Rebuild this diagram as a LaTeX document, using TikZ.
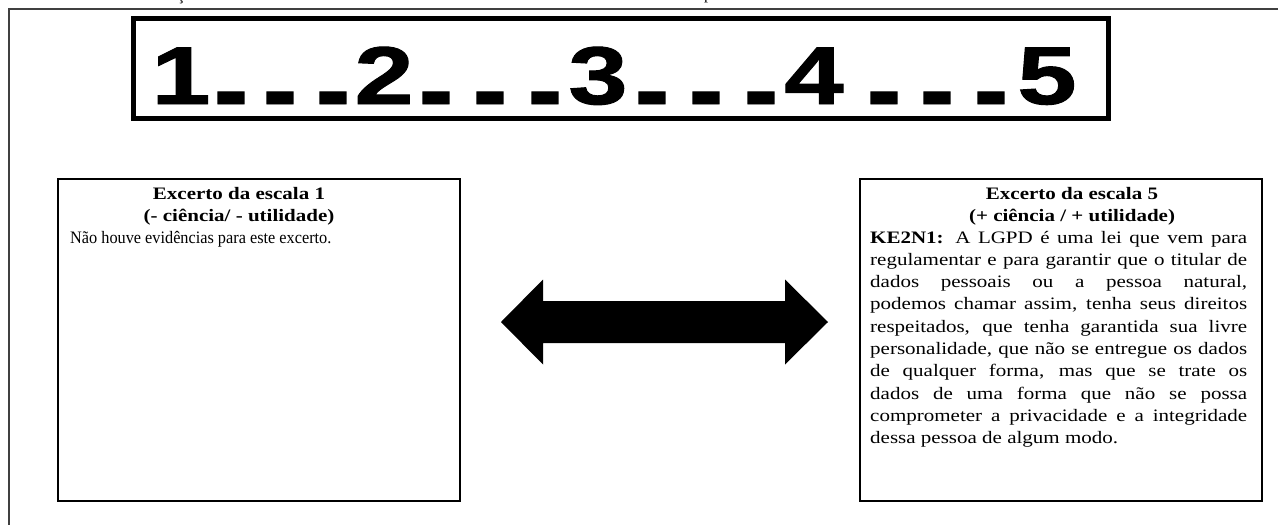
\documentclass[tikz,border=0pt]{standalone}
\usepackage{graphicx}
\usepackage{fontspec}
\setmainfont{Liberation Serif}[FakeStretch=1.2]
\newfontfamily\numfont{Liberation Sans}[FakeStretch=1.3,FakeBold=1.2]
\newfontfamily\narrowfont{Liberation Serif}[FakeStretch=0.93]
\newfontfamily\capfont{Liberation Serif}
\begin{document}
\begin{tikzpicture}[x=1pt,y=-1pt,
  frame/.style={draw=black!75, line width=1.6pt},
  scalebox/.style={draw, line width=5pt, inner sep=0pt, anchor=north west,
    minimum width=975pt, minimum height=100.5pt},
  excbox/.style={draw, line width=2.4pt, inner sep=0pt, anchor=north west,
    minimum width=402pt, minimum height=322pt},
  digit/.style={anchor=base, inner sep=0pt, font=\numfont\bfseries\fontsize{82}{82}\selectfont},
  ttl/.style={anchor=base, inner sep=0pt, font=\bfseries\fontsize{17.5}{22}\selectfont},
  body/.style={anchor=base west, inner sep=0pt, font=\fontsize{17.5}{22}\selectfont},
  narrowbody/.style={anchor=base west, inner sep=0pt, font=\narrowfont\fontsize{17.5}{22}\selectfont},
  frag/.style={anchor=base, inner sep=0pt, font=\capfont\fontsize{16}{18}\selectfont},
]
\useasboundingbox (0,0) rectangle (1278,525);

% caption line above, cut off by the page edge
\begin{scope}
  \clip (0,0) rectangle (1278,525);
  \node[frag] (capc) at (181,0.5) {ç};
  \node[frag] (capp) at (708,-1) {p};
\end{scope}

% outer frame
\draw[frame] (9,525) -- (9,9) -- (1278,9);

% scale strip
\node[scalebox] (scale) at (130.5,15.5) {};
\node[digit] (n1) at (181,104) {1};
\node[digit] (n2) at (384,104) {2};
\node[digit] (n3) at (598,104) {3};
\node[digit] (n4) at (814,104) {4};
\node[digit] (n5) at (1047,104) {5};
\foreach \x [count=\i] in {231,280,333,436,490,545,652,706,761,884,937,991}
  \node[digit] (dot\i) at (\x,104) {\makebox[22pt]{\scalebox{1.7}[1]{.}}};

% excerpt boxes
\node[excbox] (left) at (57,178) {};
\node[excbox] (right) at (859,178) {};

\node[ttl] (lt1) at (239,199) {Excerto da escala 1};
\node[ttl] (lt2) at (239,221) {(- ciência/ - utilidade)};
\node[narrowbody] (lb) at (70,243) {Não houve evidências para este excerto.};

\node[ttl] (rt1) at (1072,199) {Excerto da escala 5};
\node[ttl] (rt2) at (1072,221) {(+ ciência / + utilidade)};
\foreach \t [count=\i from 0] in {
  {\textbf{KE2N1:} A LGPD é uma lei que vem para},
  {regulamentar e para garantir que o titular de},
  {dados pessoais ou a pessoa natural,},
  {podemos chamar assim, tenha seus direitos},
  {respeitados, que tenha garantida sua livre},
  {personalidade, que não se entregue os dados},
  {de qualquer forma, mas que se trate os},
  {dados de uma forma que não se possa},
  {comprometer a privacidade e a integridade}}
  \node[body] (rb\i) at (870,{243+\i*22.3}) {\makebox[377pt][s]{\t}};
\node[body] (rb9) at (870,{243+9*22.3}) {dessa pessoa de algum modo.};

% double-headed block arrow between the boxes
\fill (501,322) -- (543,279.5) -- (543,301) -- (785,301) -- (785,279.5)
  -- (828,322) -- (785,364.5) -- (785,343) -- (543,343) -- (543,364.5) -- cycle;
\end{tikzpicture}
\end{document}
